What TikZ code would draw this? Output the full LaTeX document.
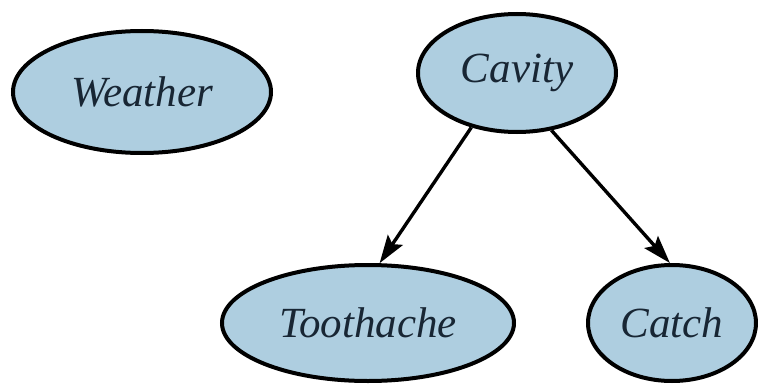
\documentclass[tikz,border=0pt]{standalone}
\usepackage{fontspec}
\setmainfont{Liberation Serif}
\usetikzlibrary{shapes.geometric,arrows.meta}
\definecolor{nodefill}{RGB}{174,206,224}
\definecolor{nodetext}{RGB}{24,38,52}
\begin{document}
\begin{tikzpicture}[x=1pt,y=1pt,
  bnode/.style={ellipse,draw=black,line width=4pt,fill=nodefill,inner sep=0pt,
    text=nodetext,font=\fontsize{43}{50}\selectfont\itshape},
  edge/.style={draw=black,line width=3.4pt,-{Stealth[length=28pt,width=18pt,inset=5pt]}}]
\useasboundingbox (0,0) rectangle (758,384);
\node[bnode,minimum width=258pt,minimum height=122pt] (weather) at (142,292) {Weather};
\node[bnode,minimum width=198pt,minimum height=118pt] (cavity) at (517,311) {Cavity};
\node[bnode,minimum width=292pt,minimum height=116pt] (tooth) at (368,61) {Toothache};
\node[bnode,minimum width=168pt,minimum height=116pt] (catch) at (672,61) {Catch};
\draw[edge] (cavity.230) -- (tooth.79);
\draw[edge] (cavity.301) -- (catch.92);
\end{tikzpicture}
\end{document}
